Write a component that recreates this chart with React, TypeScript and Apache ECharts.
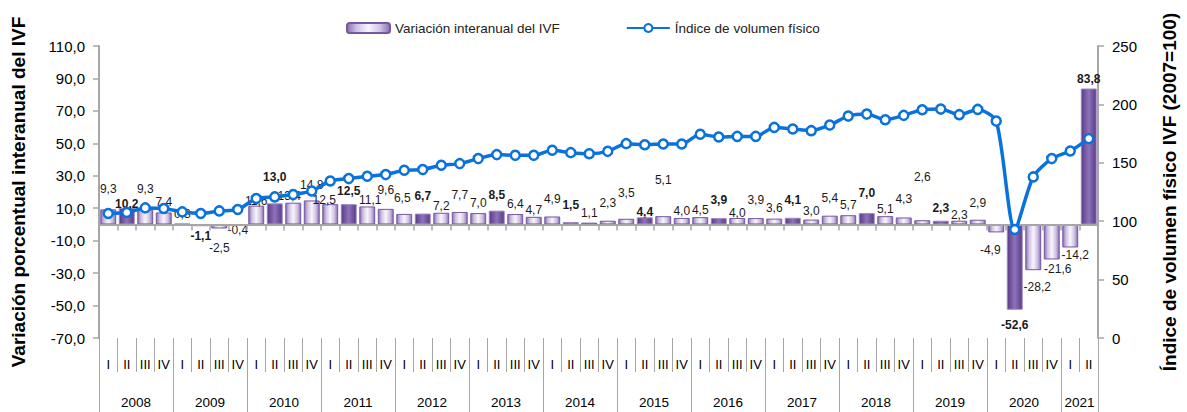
import React, { useEffect, useRef } from 'react';
import * as echarts from 'echarts';

const FONT = '"Liberation Sans", Arial, sans-serif';

const yearLabels = ['2008', '2009', '2010', '2011', '2012', '2013', '2014', '2015', '2016', '2017', '2018', '2019', '2020', '2021'];
const quarterNames = ['I', 'II', 'III', 'IV'];
const quarterLabels = yearLabels.flatMap((y) => (y === '2021' ? ['I', 'II'] : quarterNames));

// Variación interanual del IVF (%)
const variation = [
  9.3, 10.2, 9.3, 7.4,
  0.3, -1.1, -2.5, -0.4,
  11.6, 13.0, 13.4, 14.8,
  12.5, 12.5, 11.1, 9.6,
  6.5, 6.7, 7.2, 7.7,
  7.0, 8.5, 6.4, 4.7,
  4.9, 1.5, 1.1, 2.3,
  3.5, 4.4, 5.1, 4.0,
  4.5, 3.9, 4.0, 3.9,
  3.6, 4.1, 3.0, 5.4,
  5.7, 7.0, 5.1, 4.3,
  2.6, 2.3, 2.3, 2.9,
  -4.9, -52.6, -28.2, -21.6,
  -14.2, 83.8,
];

// Índice de volumen físico (2007=100)
const ivf = [
  106.6, 107.4, 111.4, 110.9,
  108.0, 106.6, 108.8, 110.0,
  119.4, 120.8, 122.8, 125.9,
  134.4, 136.5, 138.5, 139.9,
  143.6, 144.2, 147.9, 149.3,
  153.6, 157.0, 156.4, 156.4,
  160.7, 158.7, 157.8, 159.8,
  166.4, 165.5, 166.1, 166.1,
  174.4, 172.1, 172.6, 172.6,
  180.3, 178.9, 177.5, 182.3,
  190.0, 191.7, 186.9, 190.6,
  195.4, 196.0, 191.2, 195.7,
  185.7, 92.9, 137.9, 153.6,
  160.1, 170.7,
];

// label nudges (layout only, px)
const labelNudgeY = [
  -10, 6, -10, 0,
  0, 0, 9, -5,
  5, -16, 3, -5,
  6, -3, 4, -9,
  -6, -8, 3, -7,
  0, -6, 0, 3,
  -7, -7, 0, -8,
  -16, 5, -26, 3,
  3, -8, 5, -8,
  -1, -8, 1, -8,
  0, -10, 3, -8,
  -33, -3, 4, -7,
  8, 5, 7, 0,
  -2, 0,
];
const labelNudgeX: Record<number, number> = { 10: -4, 12: -6, 14: 3, 16: -2, 48: -6, 50: 4, 51: 6, 52: 5 };

const yearBounds: number[] = [];
const yearMids: number[] = [];
{
  let start = 0;
  quarterLabels.forEach((q, i) => {
    if (q === 'I' && i > 0) {
      yearBounds.push(start);
      yearMids.push((start + i) / 2);
      start = i;
    }
  });
  yearBounds.push(start);
  yearMids.push((start + quarterLabels.length) / 2);
  yearBounds.push(quarterLabels.length);
}

const fmt1 = (v: number) => v.toFixed(1).replace('.', ',');

const lightFill = new echarts.graphic.LinearGradient(0, 0, 1, 0, [
  { offset: 0, color: '#8a6cb3' },
  { offset: 0.22, color: '#cfc1e3' },
  { offset: 0.5, color: '#f8f5fc' },
  { offset: 0.78, color: '#cfc1e3' },
  { offset: 1, color: '#8a6cb3' },
]);
const darkFill = new echarts.graphic.LinearGradient(0, 0, 1, 0, [
  { offset: 0, color: '#5a3a88' },
  { offset: 0.5, color: '#8f73ba' },
  { offset: 1, color: '#5a3a88' },
]);

export default function App() {
  const ref = useRef<HTMLDivElement>(null);

  useEffect(() => {
    if (!ref.current) return;
    const chart = echarts.init(ref.current, undefined, { renderer: 'svg' });

    const barData = variation.map((v, i) => {
      const q2 = quarterLabels[i] === 'II';
      return {
        value: v,
        itemStyle: q2
          ? { color: darkFill, borderColor: '#9c86c2', borderWidth: 1 }
          : { color: lightFill, borderColor: '#7459a0', borderWidth: 1 },
        label: {
          position: v < 0 ? 'bottom' : 'top',
          offset: [labelNudgeX[i] || 0, labelNudgeY[i] || 0],
          fontWeight: q2 ? 'bold' : 'normal',
        },
      };
    });

    const axisGray = '#a6a6a6';

    const option: any = {
      animation: false,
      textStyle: { fontFamily: FONT },
      legend: {
        left: 341,
        top: 16,
        itemWidth: 43,
        itemHeight: 10,
        itemGap: 66,
        textStyle: { fontSize: 13.5, color: '#222', fontFamily: FONT },
        data: ['Variación interanual del IVF', 'Índice de volumen físico'],
      },
      grid: { left: 99, right: 89, top: 46, bottom: 74, containLabel: false },
      xAxis: [
        {
          type: 'category',
          data: quarterLabels,
          position: 'bottom',
          axisLine: { show: true, onZero: true, onZeroAxisIndex: 0, lineStyle: { color: axisGray, width: 2 } },
          axisTick: { show: true, length: 6, interval: 0, lineStyle: { color: axisGray, width: 1.5 } },
          axisLabel: { show: false },
          splitLine: { show: false },
          z: 3,
        },
        {
          type: 'category',
          data: quarterLabels,
          position: 'bottom',
          axisLine: { show: false, onZero: false },
          axisTick: { show: true, length: 34, interval: 0, lineStyle: { color: axisGray, width: 1 } },
          axisLabel: { show: true, interval: 0, margin: 20, fontSize: 13, color: '#000', fontFamily: FONT },
          splitLine: { show: false },
        },
        {
          type: 'value',
          min: 0,
          max: quarterLabels.length,
          position: 'bottom',
          axisLine: { show: false, onZero: false },
          splitLine: { show: false },
          axisTick: { show: true, customValues: yearBounds, length: 74, lineStyle: { color: axisGray, width: 1 } },
          axisLabel: {
            show: true,
            customValues: yearMids,
            formatter: (v: number) => yearLabels[Math.floor(v / 4)],
            margin: 57,
            fontSize: 13.5,
            color: '#000',
            fontFamily: FONT,
          },
        },
      ],
      yAxis: [
        {
          type: 'value',
          min: -70,
          max: 110,
          interval: 20,
          position: 'left',
          name: 'Variación porcentual interanual del IVF',
          nameLocation: 'middle',
          nameRotate: 90,
          nameGap: 71,
          nameTextStyle: { fontSize: 19, fontWeight: 'bold', color: '#000', fontFamily: FONT },
          axisLine: { show: true, lineStyle: { color: axisGray, width: 2 } },
          axisTick: { show: true, length: 6, lineStyle: { color: axisGray, width: 1.5 } },
          axisLabel: { formatter: (v: number) => fmt1(v), fontSize: 15, color: '#000', margin: 14, fontFamily: FONT },
          splitLine: { show: false },
        },
        {
          type: 'value',
          min: 0,
          max: 250,
          interval: 50,
          position: 'right',
          name: 'Índice de volumen físico IVF (2007=100)',
          nameLocation: 'middle',
          nameRotate: 90,
          nameGap: 62,
          nameTextStyle: { fontSize: 19, fontWeight: 'bold', color: '#000', fontFamily: FONT },
          axisLine: { show: true, lineStyle: { color: axisGray, width: 2 } },
          axisTick: { show: true, length: 6, lineStyle: { color: axisGray, width: 1.5 } },
          axisLabel: { fontSize: 15, color: '#000', margin: 14, fontFamily: FONT },
          splitLine: { show: false },
        },
      ],
      series: [
        {
          name: 'Variación interanual del IVF',
          type: 'bar',
          xAxisIndex: 0,
          yAxisIndex: 0,
          barCategoryGap: '14%',
          itemStyle: { color: lightFill, borderColor: '#7459a0', borderWidth: 1 },
          label: {
            show: true,
            distance: 4,
            fontSize: 12,
            color: '#1a1a1a',
            fontFamily: FONT,
            formatter: (p: any) => fmt1(p.value),
          },
          data: barData,
          z: 2,
        },
        {
          name: 'Índice de volumen físico',
          type: 'line',
          xAxisIndex: 0,
          yAxisIndex: 1,
          smooth: 0.25,
          symbol: 'circle',
          symbolSize: 9,
          lineStyle: { color: '#0a72dc', width: 3.5 },
          itemStyle: { color: '#ffffff', borderColor: '#0a72dc', borderWidth: 2.5 },
          data: ivf,
          z: 5,
        },
      ],
    };

    chart.setOption(option);
    return () => chart.dispose();
  }, []);

  return <div ref={ref} style={{ position: 'absolute', left: 0, top: 0, width: 1187, height: 412 }} />;
}
